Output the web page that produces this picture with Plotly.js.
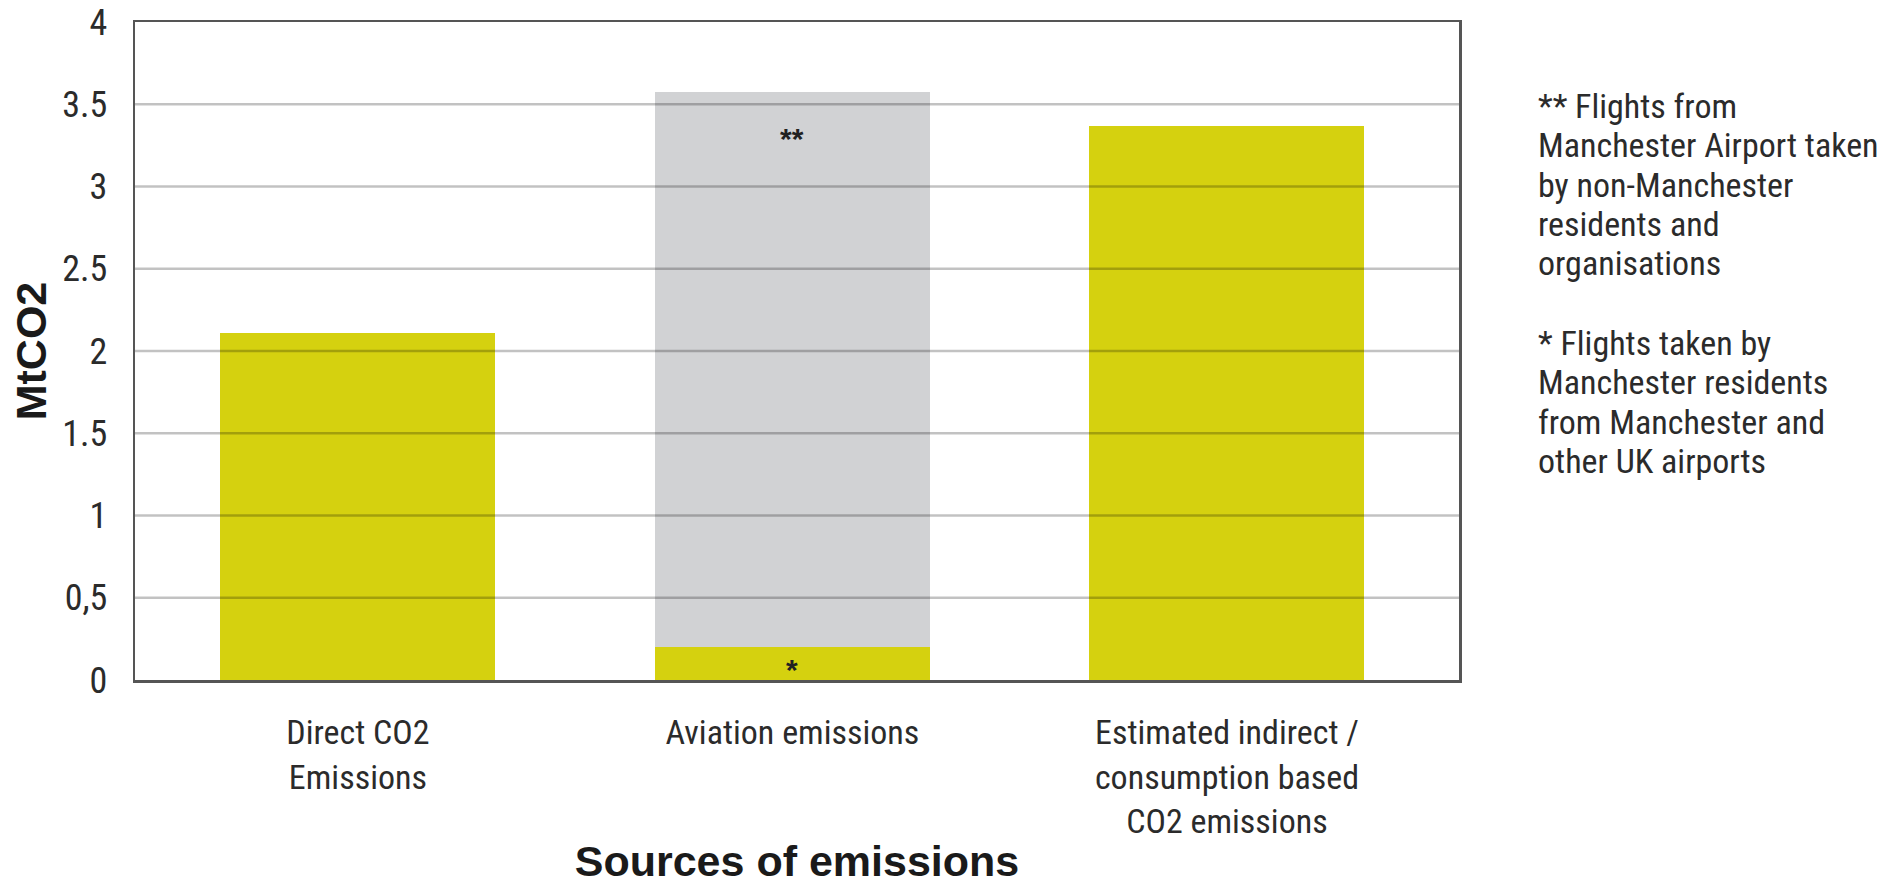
<!DOCTYPE html>
<html>
<head>
<meta charset="utf-8">
<script src="https://cdn.plot.ly/plotly-3.0.1.min.js"></script>
<style>html,body{margin:0;padding:0;background:#fff;}#chart{width:1883px;height:885px;}</style>
</head>
<body>
<div id="chart"></div>
<script>
// ---- data ----
const categories = ["Direct CO2<br>Emissions", "Aviation emissions", "Estimated indirect /<br>consumption based<br>CO2 emissions"];
const residentValues = [2.11, 0.20, 3.365];      // yellow (incl. * flights by Manchester residents)
const nonResidentValues = [0, 3.375, 0];          // grey (** flights by non-Manchester residents)
const yTickVals = [0, 0.5, 1, 1.5, 2, 2.5, 3, 3.5, 4];
const yTickText = ["0", "0,5", "1", "1.5", "2", "2.5", "3", "3.5", "4"];
const noteA = ["** Flights from", "Manchester Airport taken", "by non-Manchester", "residents and", "organisations"];
const noteB = ["* Flights taken by", "Manchester residents", "from Manchester and", "other UK airports"];

const YELLOW = "#D5D10F";
const GREY = "#D1D2D4";
const NARROW = "'Roboto Condensed', 'DejaVu Sans Condensed', sans-serif";
const BOLD = "'Liberation Sans', Arial, sans-serif";
const TXT = "#2b2b2b";

const traces = [
  {type: "bar", x: [0, 1, 2], y: residentValues, marker: {color: YELLOW}, width: 0.633, hoverinfo: "skip", showlegend: false},
  {type: "bar", x: [0, 1, 2], y: nonResidentValues, marker: {color: GREY}, width: 0.633, hoverinfo: "skip", showlegend: false}
];

const annotations = [];
// asterisk markers on aviation bar
annotations.push({x: 1, y: residentValues[1] / 2, xref: "x", yref: "y", text: "*", showarrow: false,
  font: {family: BOLD, size: 30, color: "#222", weight: "bold"}, yshift: -6});
annotations.push({x: 1, y: residentValues[1] + nonResidentValues[1] - 0.26, xref: "x", yref: "y", text: "**", showarrow: false,
  font: {family: BOLD, size: 30, color: "#222", weight: "bold"}, yshift: -4});

// side notes, one annotation per line
const plotTop = 21.6, plotBottom = 680, plotH = plotBottom - plotTop;
function pxToPaper(py) { return (plotBottom - py) / plotH; }
noteA.forEach((t, i) => annotations.push({xref: "paper", yref: "paper", x: 1.058, y: pxToPaper(105.7 + i * 39.3),
  xanchor: "left", yanchor: "middle", text: t, showarrow: false, font: {family: NARROW, size: 34, color: TXT}}));
noteB.forEach((t, i) => annotations.push({xref: "paper", yref: "paper", x: 1.058, y: pxToPaper(342.3 + i * 39.6),
  xanchor: "left", yanchor: "middle", text: t, showarrow: false, font: {family: NARROW, size: 34, color: TXT}}));

// gridlines drawn above the bars (as in the reference)
const shapes = yTickVals.slice(1, -1).map(v => ({type: "line", xref: "paper", yref: "y", x0: 0, x1: 1, y0: v, y1: v,
  line: {color: "rgba(0,0,0,0.24)", width: 2.5}, layer: "above"}));

const layout = {
  width: 1883, height: 885,
  margin: {l: 134.5, r: 424, t: 21.6, b: 205},
  paper_bgcolor: "#fff", plot_bgcolor: "#fff",
  barmode: "stack",
  bargap: 0,
  xaxis: {
    range: [-0.513, 2.534], tickvals: [0, 1, 2], ticktext: categories,
    showgrid: false, zeroline: false,
    showline: true, mirror: true, linecolor: "#555", linewidth: 2.5,
    ticks: "outside", ticklen: 21, tickcolor: "rgba(0,0,0,0)",
    tickfont: {family: NARROW, size: 34, color: TXT},
    title: {text: "Sources of emissions", font: {family: BOLD, size: 43, color: "#1a1a1a", weight: "bold"}, standoff: 20},
    fixedrange: true
  },
  yaxis: {
    range: [0, 4], tickvals: yTickVals, ticktext: yTickText,
    showgrid: false, zeroline: false,
    showline: true, mirror: true, linecolor: "#555", linewidth: 2.5,
    ticks: "outside", ticklen: 18, tickcolor: "rgba(0,0,0,0)",
    tickfont: {family: NARROW, size: 36, color: TXT},
    title: {text: "MtCO2", font: {family: BOLD, size: 43, color: "#1a1a1a", weight: "bold"}, standoff: 2},
    fixedrange: true
  },
  shapes: shapes,
  annotations: annotations,
  showlegend: false
};

Plotly.newPlot("chart", traces, layout, {displayModeBar: false, staticPlot: true});
</script>
</body>
</html>
